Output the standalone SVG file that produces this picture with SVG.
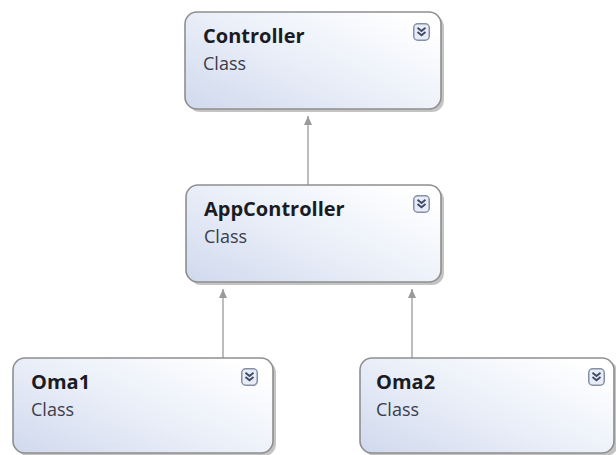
<svg xmlns="http://www.w3.org/2000/svg" width="616" height="455" viewBox="0 0 616 455">
<defs>
<linearGradient id="g" x1="0" y1="1" x2="1" y2="0.2">
<stop offset="0" stop-color="#d0d9ed"/>
<stop offset="0.5" stop-color="#e9eef8"/>
<stop offset="1" stop-color="#ffffff"/>
</linearGradient>
<marker id="arr" viewBox="0 0 9 8" refX="9" refY="4" markerWidth="9" markerHeight="8" orient="auto" markerUnits="userSpaceOnUse">
<path d="M0,0 L9,4 L0,8 Z" fill="#9a9a9a"/>
</marker>
<g id="ic">
<rect x="0.75" y="0.75" width="15.5" height="16.5" rx="4" fill="#e8ecf6" stroke="#8590a8" stroke-width="1.5"/>
<path d="M4.5,4.8 L8.5,8 L12.5,4.8 M4.5,9 L8.5,12.2 L12.5,9" fill="none" stroke="#3f4a66" stroke-width="1.9"/>
</g>
</defs>
<style>
.box{fill:url(#g);stroke:#8e8e8e;stroke-width:1.6}
.sh{fill:#c4c4c4}
.t{font-family:"Open Sans","Liberation Sans",sans-serif;font-weight:bold;font-size:20px;fill:#1b1b24}
.s{font-family:"Open Sans","Liberation Sans",sans-serif;font-size:18px;fill:#3c3c4a}
.c{stroke:#9a9a9a;stroke-width:1.3;fill:none}
</style>
<rect width="616" height="455" fill="#ffffff"/>
<g id="connectors">
<line class="c" x1="308" y1="185" x2="308" y2="116" marker-end="url(#arr)"/>
<line class="c" x1="223" y1="358" x2="223" y2="289" marker-end="url(#arr)"/>
<line class="c" x1="412" y1="358" x2="412" y2="289" marker-end="url(#arr)"/>
</g>
<g id="controller">
<rect class="sh" x="188" y="15" width="256" height="97" rx="12"/>
<rect class="box" x="185" y="12" width="256" height="97" rx="12"/>
<text class="t" x="203" y="43">Controller</text>
<text class="s" x="203" y="70">Class</text>
<use href="#ic" x="413" y="23"/>
</g>
<g id="appcontroller">
<rect class="sh" x="189" y="188" width="255" height="97" rx="12"/>
<rect class="box" x="186" y="185" width="255" height="97" rx="12"/>
<text class="t" x="204" y="216">AppController</text>
<text class="s" x="204" y="243">Class</text>
<use href="#ic" x="413" y="195"/>
</g>
<g id="oma1">
<rect class="sh" x="16" y="361" width="260" height="95" rx="12"/>
<rect class="box" x="13" y="358" width="260" height="95" rx="12"/>
<text class="t" x="31" y="389">Oma1</text>
<text class="s" x="31" y="416">Class</text>
<use href="#ic" x="241" y="368"/>
</g>
<g id="oma2">
<rect class="sh" x="363" y="361" width="255" height="95" rx="12"/>
<rect class="box" x="360" y="358" width="254" height="95" rx="12"/>
<text class="t" x="376" y="389">Oma2</text>
<text class="s" x="376" y="416">Class</text>
<use href="#ic" x="588" y="368"/>
</g>
</svg>
